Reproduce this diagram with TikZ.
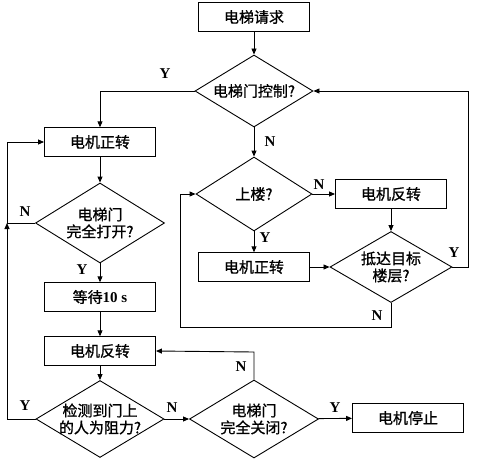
\documentclass[tikz,border=0pt]{standalone}
\usepackage{fontspec}
\setmainfont{Liberation Serif}
\newfontfamily\zh[FakeBold=1]{Noto Sans CJK SC}
\usetikzlibrary{shapes.geometric,arrows.meta}
\tikzset{
    RA/.style ={rectangle,minimum width = 111pt, minimum height = 28.5pt, inner sep=0pt, draw, font=\zh\fontsize{15}{17}\selectfont},
    DI/.style ={diamond,inner sep=0pt, draw, align=center, font=\zh\fontsize{15}{17}\selectfont},
    YN/.style ={font=\bfseries\fontsize{15}{15}\selectfont},
    AR/.style ={-{Triangle[length=6pt,width=5pt]}}}
\begin{document}
\begin{tikzpicture}[x=1pt,y=-1pt,line width=0.9pt]
        \useasboundingbox (0,0) rectangle (483,464);
        \node[RA] (1) at(254,17){电梯请求};
        \node[DI,aspect=1.64,minimum width=118pt,minimum height=72pt] (2) at(254,91){电梯门控制?};
        \node[RA] (3) at(100,142){电机正转};
        \node[DI,aspect=1.6,minimum width=129pt,minimum height=80pt] (4) at(100,223){电梯门\\完全打开?};
        \node[RA] (5) at(100,297){等待{\rmfamily\bfseries 10 s}};
        \node[RA] (6) at(100,351){电机反转};
        \node[DI,aspect=1.66,inner xsep=-8pt,minimum width=128pt,minimum height=77pt] (7) at(100,419){检测到门上\\的人为阻力?};
        \node[DI,aspect=1.65,minimum width=129pt,minimum height=78pt] (8) at(254,419){电梯门\\完全关闭?};
        \node[RA] (9) at(408,418){电机停止};
        \node[DI,aspect=1.57,minimum width=116pt,minimum height=74pt] (10) at(254,194){上楼?};
        \node[RA] (11) at(391,194){电机反转};
        \node[RA] (12) at(254,267){电机正转};
        \node[DI,aspect=1.72,minimum width=122pt,minimum height=71pt] (13) at(391,267){抵达目标\\楼层?};
        \coordinate (a) at(468,267);
        \coordinate (b) at(391,327);
        \coordinate (c) at(180,327);
        \coordinate (d) at(7,223);
        \coordinate (e) at(254,352);
        \node[YN] (y1) at(165,74){Y};
        \node[YN] (n1) at(270,142){N};
        \node[YN] (n2) at(319,185){N};
        \node[YN] (y2) at(265,238){Y};
        \node[YN] (y3) at(454,253){Y};
        \node[YN] (n3) at(377,316){N};
        \node[YN] (n4) at(25,212){N};
        \node[YN] (y4) at(82,270){Y};
        \node[YN] (y5) at(25,406){Y};
        \node[YN] (n5) at(172,408){N};
        \node[YN] (n6) at(241,367){N};
        \node[YN] (y6) at(335,408){Y};
        \draw[AR] (1) --(2);
        \draw[AR] (2.west) -|(3.north);
        \draw[AR] (2) --(10);
        \draw[AR] (10) --(11);
        \draw[AR] (10) --(12);
        \draw[AR] (11) --(13);
        \draw[AR] (12) --(13);
        \draw[AR] (13.east) --(a) |-(2.east);
        \draw[AR] (13.south) --(b) --(c) |-(10.west);
        \draw[AR] (3) --(4);
        \draw (4.west) --(d);
        \draw[AR] (4) --(5);
        \draw[AR] (5) --(6);
        \draw[AR] (6) --(7);
        \draw[AR] (7.west) -|(d);
        \draw[AR] (d) |-(3.west);
        \draw[AR] (7) --(8);
        \draw[AR] (8.north) --(e) --(6.east);
        \draw[AR] (8) --(9);
    \end{tikzpicture}
\end{document}
